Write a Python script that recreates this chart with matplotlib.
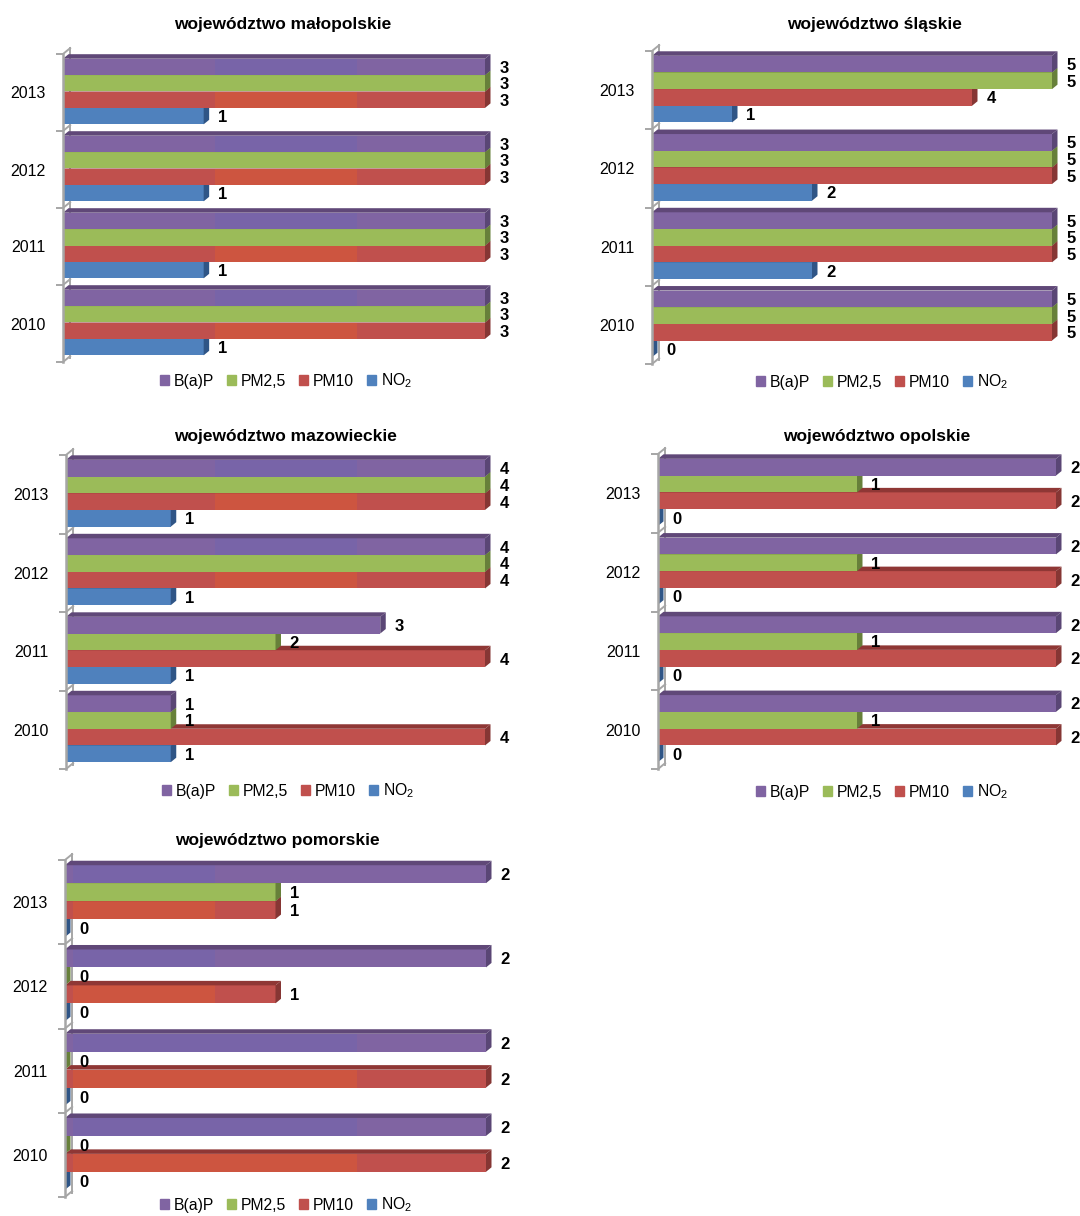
import matplotlib
matplotlib.use('Agg')
import matplotlib.pyplot as plt
from matplotlib.patches import Polygon, Patch

plt.rcParams['font.family'] = ['Liberation Sans', 'DejaVu Sans']
plt.rcParams['mathtext.default'] = 'regular'

W, H = 1080, 1216

years = ['2013', '2012', '2011', '2010']
series_names = ['B(a)P', 'PM2,5', 'PM10', 'NO$_2$']

titles = ['województwo małopolskie', 'województwo śląskie', 'województwo mazowieckie',
          'województwo opolskie', 'województwo pomorskie']

# values per year 2013..2010
bap = [[3, 3, 3, 3], [5, 5, 5, 5], [4, 4, 3, 1], [2, 2, 2, 2], [2, 2, 2, 2]]
pm25 = [[3, 3, 3, 3], [5, 5, 5, 5], [4, 4, 2, 1], [1, 1, 1, 1], [1, 0, 0, 0]]
pm10 = [[3, 3, 3, 3], [4, 5, 5, 5], [4, 4, 4, 4], [2, 2, 2, 2], [1, 1, 2, 2]]
no2 = [[1, 1, 1, 1], [1, 2, 2, 0], [1, 1, 1, 1], [0, 0, 0, 0], [0, 0, 0, 0]]
x_max = [3, 5, 4, 2, 2]

# plot boxes in pixels: axis x, end of scale x, top tick, bottom tick
boxes = [(63, 485, 54, 362), (652, 1052, 51, 364), (66, 485, 455, 769),
         (658, 1056, 454, 769), (65, 486, 860, 1197)]
title_pos = [(283, 25), (874, 25), (285, 437), (877, 437), (277, 841)]
legend_pos = [(286, 381), (882, 382), (288, 791), (882, 792), (286, 1205)]

# the source picture has a differently tinted strip on some purple and red bars (pixel range per year)
strips = [[(215, 357)] * 4, None, [(215, 357), (215, 357), None, None], None,
          [(73, 215), (73, 215), (73, 357), (73, 357)]]

front = ['#8064a2', '#9bbb59', '#c0504d', '#4f81bd']
top = ['#604878', '#6f8a3a', '#8f3735', '#376092']
side = ['#5a4675', '#67803a', '#863634', '#2f5586']
strip_col = {0: '#7864a8', 2: '#cd5540'}
grey = '#a6a6a6'
depth_x, depth_y = 5.5, 4.5
bar_h = 0.213

fig = plt.figure(figsize=(W / 100, H / 100), dpi=100)

for p in range(5):
    x0, x1, y0, y1 = boxes[p]
    ax = fig.add_axes([x0 / W, 1 - y1 / H, (x1 - x0) / W, (y1 - y0) / H])
    ax.set_xlim(0, x_max[p])
    ax.set_ylim(3.5, -0.5)
    ax.patch.set_visible(False)
    sx = (x1 - x0) / x_max[p]
    sy = (y1 - y0) / 4
    dx, dy = depth_x / sx, depth_y / sy

    # back line of the 3d wall
    ax.plot([dx * 1.3, dx * 1.3], [-0.5 - dy * 1.3, 3.5 - dy], color=grey, lw=1.4, clip_on=False, zorder=1)
    for yy in [-0.5, 0.5, 1.5, 2.5, 3.5]:
        ax.plot([0, dx * 1.3], [yy, yy - dy * 1.3], color=grey, lw=1.4, clip_on=False, zorder=1)

    values = [bap[p], pm25[p], pm10[p], no2[p]]
    for s in [3, 2, 1, 0]:
        for i, v in enumerate(values[s]):
            yc = i + (s - 1.5) * bar_h - 1 / sy
            yt, yb = yc - bar_h / 2, yc + bar_h / 2
            z = 10 + (3 - s) * 3 + i * 20
            ax.barh(yc, v, height=bar_h, color=front[s], zorder=z)
            if strips[p] and strips[p][i] and s in strip_col:
                a = (strips[p][i][0] - x0) / sx
                b = min((strips[p][i][1] - x0) / sx, v)
                ax.barh(yc, b - a, left=a, height=bar_h, color=strip_col[s], zorder=z)
            ax.add_patch(Polygon([(0, yt), (v, yt), (v + dx, yt - dy), (dx, yt - dy)],
                                 color=top[s], lw=0, zorder=z + 1, clip_on=False))
            ax.add_patch(Polygon([(v, yt), (v + dx, yt - dy), (v + dx, yb - dy), (v, yb)],
                                 color=side[s], lw=0, zorder=z + 1, clip_on=False))
            ax.text(v + 19 / sx, yc + 1.5 / sy, str(v), ha='center', va='center', fontsize=12,
                    fontweight='bold', color='black', zorder=200, clip_on=False)

    ax.set_yticks(range(4))
    ax.set_yticklabels(years, fontsize=11.5)
    ax.tick_params(axis='y', which='major', length=0, pad=12.5)
    ax.set_yticks([-0.5, 0.5, 1.5, 2.5, 3.5], minor=True)
    ax.tick_params(axis='y', which='minor', length=5, width=1.4, color=grey)
    ax.set_xticks([])
    for name in ['top', 'right', 'bottom']:
        ax.spines[name].set_visible(False)
    ax.spines['left'].set_color(grey)
    ax.spines['left'].set_linewidth(1.8)
    ax.spines['left'].set_zorder(300)

    fig.text(title_pos[p][0] / W, 1 - title_pos[p][1] / H, titles[p], ha='center', va='center',
             fontsize=12.5, fontweight='bold')

    handles = [Patch(color=front[s], label=series_names[s]) for s in range(4)]
    fig.legend(handles=handles, ncol=4, frameon=False, fontsize=11.3,
               loc='center', bbox_to_anchor=(legend_pos[p][0] / W, 1 - legend_pos[p][1] / H),
               handlelength=0.6, handleheight=0.6, handletextpad=0.3, columnspacing=0.8,
               borderpad=0, labelspacing=0)

fig.savefig('out.png', dpi=100)
